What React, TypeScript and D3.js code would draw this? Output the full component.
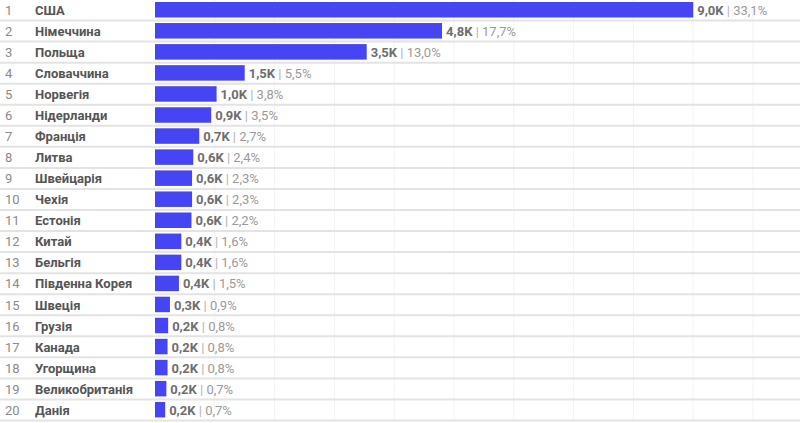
import React from "react";
import * as d3 from "d3";

const countries = [
  "США", "Німеччина", "Польща", "Словаччина", "Норвегія", "Нідерланди", "Франція", "Литва",
  "Швейцарія", "Чехія", "Естонія", "Китай", "Бельгія", "Південна Корея", "Швеція", "Грузія",
  "Канада", "Угорщина", "Великобританія", "Данія",
];
const values = [9.0, 4.8, 3.54, 1.5, 1.03, 0.94, 0.74, 0.64, 0.62, 0.62, 0.61, 0.44, 0.44, 0.4, 0.25, 0.22, 0.21, 0.21, 0.19, 0.17];
const percents = [33.1, 17.7, 13.0, 5.5, 3.8, 3.5, 2.7, 2.4, 2.3, 2.3, 2.2, 1.6, 1.6, 1.5, 0.9, 0.8, 0.8, 0.8, 0.7, 0.7];
const gridTicks = [1, 2, 3, 4, 5, 6, 7, 8, 9, 10];

const W = 800;
const H = 423;
const FONT = "Roboto, 'Noto Sans', sans-serif";

export default function App() {
  const x = d3.scaleLinear().domain([0, 10]).range([155, 155 + 598]);
  const y = d3
    .scaleBand<number>()
    .domain(countries.map((_, i) => i))
    .range([0, 421])
    .padding(0);
  const bw = y.bandwidth();
  const fmt = (v: number) => v.toFixed(1).replace(".", ",");

  return (
    <svg
      width={W}
      height={H}
      style={{ position: "absolute", left: 0, top: 0, background: "#fff" }}
      fontFamily={FONT}
    >
      {gridTicks.map((t) => (
        <line key={t} x1={x(t)} x2={x(t)} y1={0} y2={421} stroke="#f3f3f3" strokeWidth={1} />
      ))}
      {countries.map((c, i) => {
        const top = y(i)!;
        return (
          <line key={"sep" + i} x1={0} x2={W} y1={top + bw - 0.5} y2={top + bw - 0.5} stroke="#e3e3e3" strokeWidth={2} />
        );
      })}
      {countries.map((c, i) => {
        const top = y(i)!;
        const base = top + 14.8;
        const xe = x(values[i]);
        return (
          <g key={c}>
            <text x={5} y={base} fontSize={13} fill="#8a8a8a">
              {i + 1}
            </text>
            <text x={35} y={base} fontSize={13} fontWeight={700} fill="#555">
              {c}
            </text>
            <rect x={x(0)} y={top + 2} width={xe - x(0)} height={15.5} fill="#4545f4" />
            <text x={xe + 4} y={base} fontSize={13}>
              <tspan fontWeight={700} fill="#6e6e6e">{fmt(values[i])}K</tspan>
              <tspan fill="#b0b0b0"> | </tspan>
              <tspan fill="#9a9a9a">{fmt(percents[i])}%</tspan>
            </text>
          </g>
        );
      })}
    </svg>
  );
}
